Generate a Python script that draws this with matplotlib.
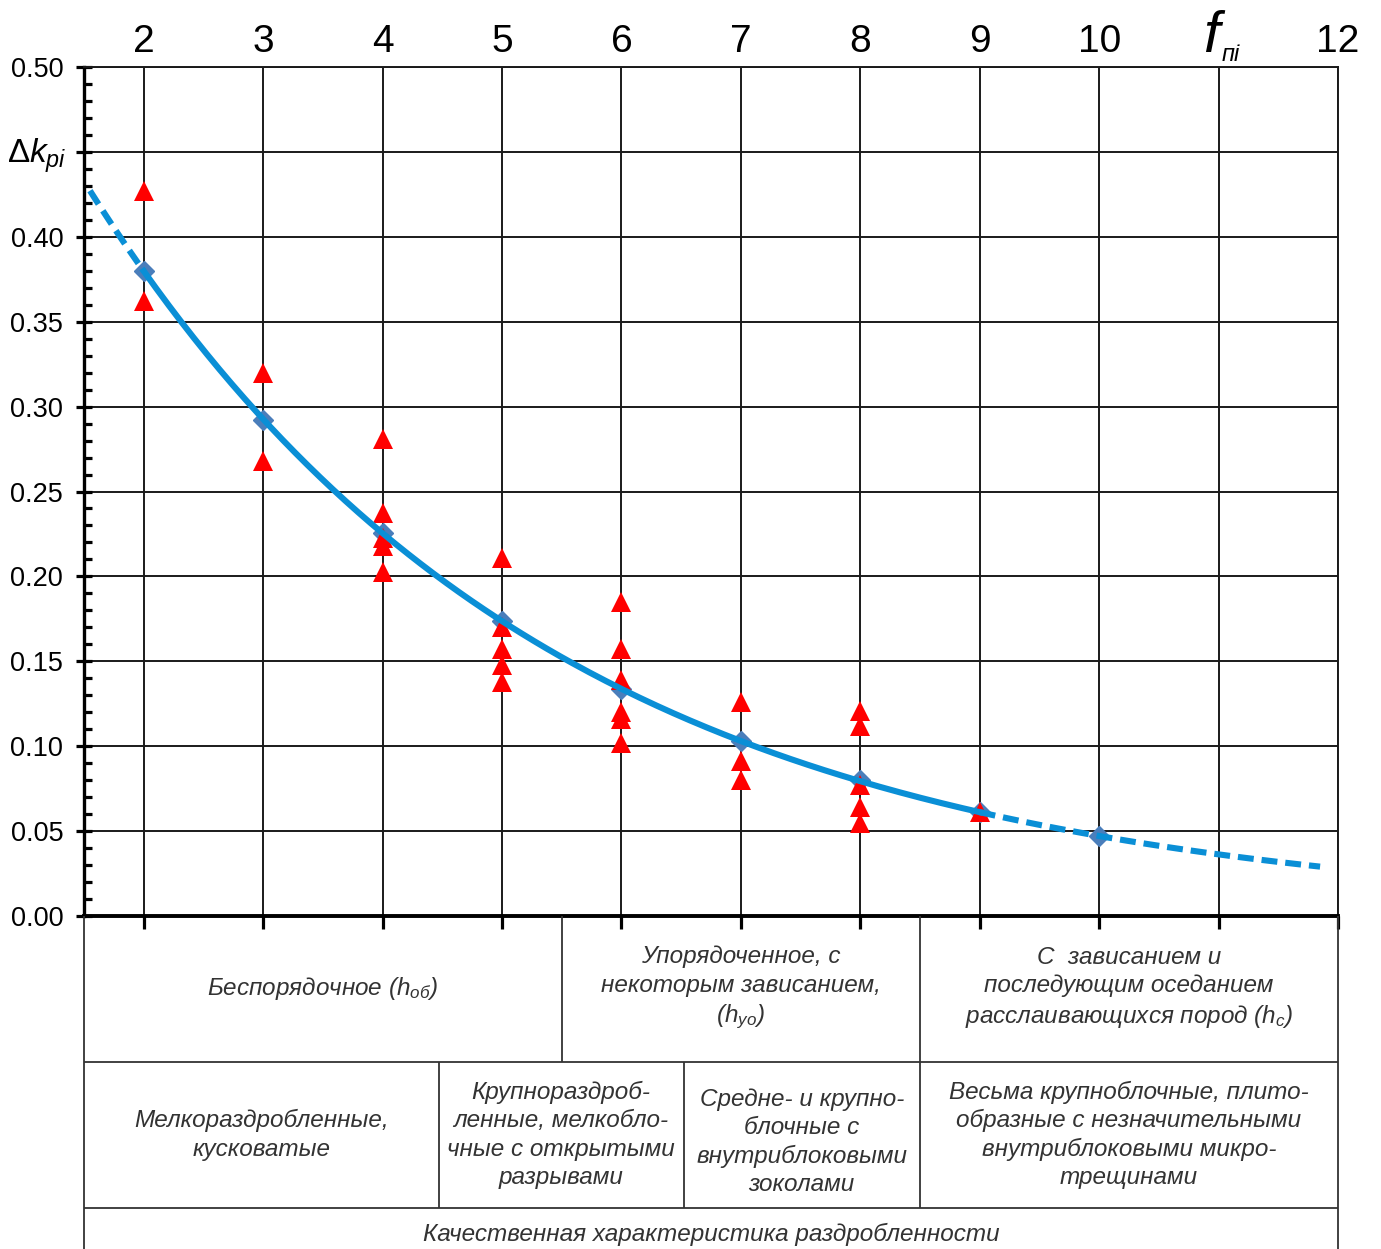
import numpy as np
import matplotlib.pyplot as plt
from matplotlib.ticker import MultipleLocator

plt.rcParams['font.family'] = ['Liberation Sans', 'DejaVu Sans']
plt.rcParams['mathtext.fontset'] = 'custom'
plt.rcParams['mathtext.it'] = 'Liberation Sans:italic'
plt.rcParams['mathtext.rm'] = 'Liberation Sans'
plt.rcParams['mathtext.bf'] = 'Liberation Sans:bold'

# measured points (red triangles)
f_meas = [2, 2, 3, 3, 4, 4, 4, 4, 4, 5, 5, 5, 5, 5,
          6, 6, 6, 6, 6, 6, 7, 7, 7, 8, 8, 8, 8, 8, 9]
dk_meas = [0.427, 0.362, 0.320, 0.268,
           0.281, 0.2375, 0.2225, 0.218, 0.2025,
           0.211, 0.170, 0.157, 0.148, 0.138,
           0.185, 0.157, 0.139, 0.120, 0.116, 0.102,
           0.126, 0.091, 0.080,
           0.121, 0.112, 0.077, 0.064, 0.055,
           0.061]

# mean values (blue diamonds)
f_mean = [2, 3, 4, 5, 6, 7, 8, 9, 10]
dk_mean = [0.380, 0.292, 0.2255, 0.1737, 0.1337, 0.103, 0.080, 0.061, 0.047]

top_labels = ['2', '3', '4', '5', '6', '7', '8', '9', '10', '', '12']

row1 = ['Беспорядочное ($h_{об}$)',
        'Упорядоченное, с\nнекоторым зависанием,\n($h_{уо}$)',
        'С  зависанием и\nпоследующим оседанием\nрасслаивающихся пород ($h_{с}$)']
row2 = ['Мелкораздробленные,\nкусковатые',
        'Крупнораздроб-\nленные, мелкобло-\nчные с открытыми\nразрывами',
        'Средне- и крупно-\nблочные с\nвнутриблоковыми\nзоколами',
        'Весьма крупноблочные, плито-\nобразные с незначительными\nвнутриблоковыми микро-\nтрещинами']
row3 = 'Качественная характеристика раздробленности'
row1_edges = [1.5, 5.5, 8.5, 12]
row2_edges = [1.5, 4.47, 6.52, 8.5, 12]

W, H = 1381, 1249
fig = plt.figure(figsize=(W / 100, H / 100), dpi=100)
ax = fig.add_axes([84 / W, 1 - 916 / H, (1338 - 84) / W, (916 - 67) / H])
ax.set_xlim(1.5, 12)
ax.set_ylim(0, 0.5)

# exponential trend through the mean values
b, a = np.polyfit(f_mean, np.log(dk_mean), 1)
xs = np.linspace(2, 9, 200)
ax.plot(f_mean, dk_mean, 'D', color='#4a7ebb', ms=10, zorder=3)
ax.plot(f_meas, dk_meas, '^', color='#ff0000', ms=14, mew=0, zorder=3)
ax.plot(xs, np.exp(a + b * xs), color='#0a8fd6', lw=4.4, zorder=4)
for lo, hi in [(1.55, 2), (9, 11.85)]:
    xd = np.linspace(lo, hi, 100)
    ax.plot(xd, np.exp(a + b * xd), color='#0a8fd6', lw=4.4,
            dashes=(2.6, 1.3), dash_capstyle='butt', zorder=4)

ax.grid(True, which='major', color='#1a1a1a', lw=1.4, zorder=1)
ax.set_axisbelow(True)

ax.yaxis.set_major_locator(MultipleLocator(0.05))
ax.yaxis.set_minor_locator(MultipleLocator(0.01))
yt = np.arange(0, 0.501, 0.05)
ax.set_yticks(yt)
ax.set_yticklabels(['' if abs(v - 0.45) < 1e-6 else f'{v:.2f}' for v in yt])
ax.tick_params(axis='y', which='major', direction='inout', length=12,
               width=2.3, labelsize=19.5, pad=9)
ax.tick_params(axis='y', which='minor', direction='in', length=6, width=2.3)

ax.set_xticks(range(2, 13))
ax.set_xticklabels(top_labels)
ax.tick_params(axis='x', which='major', bottom=True, top=False,
               labelbottom=False, labeltop=True, direction='out',
               length=9, width=2.3, labelsize=28, pad=-4)

for s in ['top', 'right']:
    ax.spines[s].set_linewidth(1.4)
    ax.spines[s].set_color('#1a1a1a')
ax.spines['left'].set_linewidth(2.4)
ax.spines['bottom'].set_linewidth(2.8)

ax.annotate(r'$\Delta k_{pi}$', xy=(0, 0.45), xycoords=('axes fraction', 'data'),
            xytext=(-34, -3), textcoords='offset points',
            ha='center', va='center', fontsize=24)
ax.annotate('f', xy=(11, 1), xycoords=('data', 'axes fraction'),
            xytext=(-5, 2), textcoords='offset points', ha='center', va='bottom',
            fontsize=42, style='italic')
ax.annotate('пі', xy=(11, 1), xycoords=('data', 'axes fraction'),
            xytext=(9, 1), textcoords='offset points', ha='center', va='bottom',
            fontsize=17, style='italic')

# table below the chart
tax = fig.add_axes([84 / W, 0, (1338 - 84) / W, (H - 916) / H])
tax.set_xlim(1.5, 12)
tax.set_ylim(H - 916, 0)
tax.axis('off')
lc = '#333333'
tkw = dict(color=lc, lw=1.3, clip_on=False)
tax.vlines([1.5, 12], 0, H - 916, **tkw)
tax.hlines([146, 292], 1.5, 12, **tkw)
tax.vlines(row1_edges[1:-1], 0, 146, **tkw)
tax.vlines(row2_edges[1:-1], 146, 292, **tkw)

txt = dict(ha='center', va='center', fontsize=17.5, style='italic',
           color='#333333', linespacing=1.3, multialignment='center')
for i, s in enumerate(row1):
    tax.text((row1_edges[i] + row1_edges[i + 1]) / 2, 72, s, **txt)
for i, s in enumerate(row2):
    tax.text((row2_edges[i] + row2_edges[i + 1]) / 2, 219 + (7 if i == 2 else 0), s, **txt)
tax.text(6.75, 318, row3, **txt)

fig.savefig('out.png', dpi=100)
